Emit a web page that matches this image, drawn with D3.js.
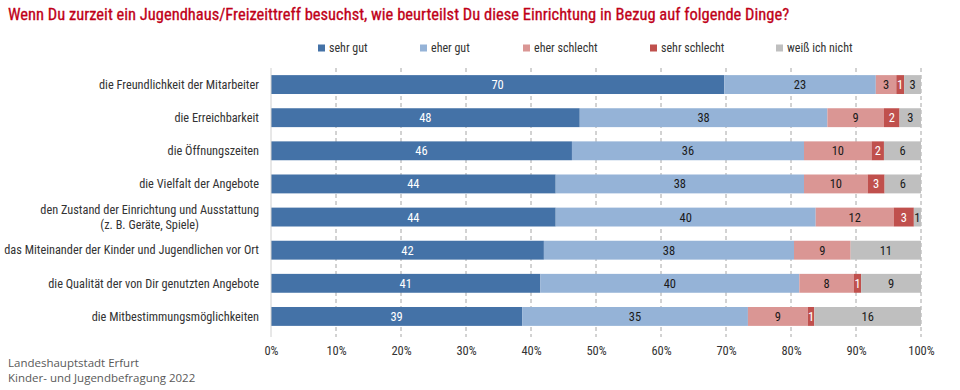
<!DOCTYPE html>
<html>
<head>
<meta charset="utf-8">
<script src="https://cdn.jsdelivr.net/npm/d3@7"></script>
<style>
  body { margin: 0; background: #fff; }
  svg text { font-family: "Liberation Sans Narrow", "Roboto Condensed", Roboto, sans-serif; }
</style>
</head>
<body>
<svg id="chart" width="960" height="390"></svg>
<script>
// data (percent)
const categories = [
    "die Freundlichkeit der Mitarbeiter",
    "die Erreichbarkeit",
    "die Öffnungszeiten",
    "die Vielfalt der Angebote",
    "den Zustand der Einrichtung und Ausstattung\n(z. B. Geräte, Spiele)",
    "das Miteinander der Kinder und Jugendlichen vor Ort",
    "die Qualität der von Dir genutzten Angebote",
    "die Mitbestimmungsmöglichkeiten"
];
const seriesNames = ["sehr gut", "eher gut", "eher schlecht", "sehr schlecht", "weiß ich nicht"];
const sehrGut      = [69.7, 47.5, 46.3, 43.8, 43.8, 41.9, 41.4, 38.6];
const eherGut      = [23.3, 38.1, 35.7, 38.2, 40.0, 38.4, 39.8, 34.7];
const eherSchlecht = [3.15, 8.7, 10.4, 9.8, 12.0, 8.7, 8.4, 9.2];
const sehrSchlecht = [1.2, 2.4, 1.9, 2.6, 3.1, 0, 1.1, 1.0];
const weissNicht   = [2.6, 3.3, 5.7, 5.6, 1.1, 10.8, 9.2, 16.4];
const xTicks = [0, 0.1, 0.2, 0.3, 0.4, 0.5, 0.6, 0.7, 0.8, 0.9, 1];

const colors = ["#4472a7", "#95b3d7", "#da9694", "#c0504d", "#bfbfbf"];
const labelColors = ["#ffffff", "#1a1a1a", "#1a1a1a", "#ffffff", "#1a1a1a"];

const series = [sehrGut, eherGut, eherSchlecht, sehrSchlecht, weissNicht];
const rows = categories.map((c, i) => {
    const r = { cat: c };
    seriesNames.forEach((s, j) => r[s] = series[j][i]);
    return r;
});

const svg = d3.select("#chart");
const plotLeft = 271, plotRight = 921, plotTop = 68, plotBottom = 333;

const x = d3.scaleLinear().domain([0, 1]).range([plotLeft, plotRight]);
const y = d3.scaleBand().domain(categories).range([plotTop, plotBottom])
    .paddingInner(0.43).paddingOuter(0.215);
const color = d3.scaleOrdinal().domain(seriesNames).range(colors);
const labelColor = d3.scaleOrdinal().domain(seriesNames).range(labelColors);

const stacked = d3.stack().keys(seriesNames).offset(d3.stackOffsetExpand)(rows);

// title
svg.append("text")
    .attr("x", 8).attr("y", 20)
    .attr("fill", "#c00018")
    .attr("font-size", 16.5)
    .attr("stroke", "#c00018")
    .attr("stroke-width", 0.3)
    .text("Wenn Du zurzeit ein Jugendhaus/Freizeittreff besuchst, wie beurteilst Du diese Einrichtung in Bezug auf folgende Dinge?");

// legend
const legendX = [318, 420, 523, 650, 776];
const legend = svg.append("g").selectAll("g")
    .data(seriesNames)
    .join("g")
        .attr("transform", (d, i) => "translate(" + legendX[i] + ",48)");
legend.append("rect")
    .attr("x", 0).attr("y", -3.5)
    .attr("width", 7).attr("height", 7)
    .attr("fill", d => color(d));
legend.append("text")
    .attr("x", 11).attr("dy", "0.35em")
    .attr("font-size", 12)
    .attr("fill", "#333")
    .text(d => d);

// grid + bottom ticks
const grid = svg.append("g");
grid.selectAll("line")
    .data(xTicks.slice(1))
    .join("line")
        .attr("x1", d => x(d)).attr("x2", d => x(d))
        .attr("y1", plotTop).attr("y2", plotBottom + 4)
        .attr("stroke", "#a6a6a6")
        .attr("stroke-dasharray", "4,3");

// bars
const layer = svg.append("g").selectAll("g")
    .data(stacked)
    .join("g")
        .attr("fill", d => color(d.key));
layer.selectAll("rect")
    .data(d => d)
    .join("rect")
        .attr("x", d => x(d[0]))
        .attr("width", d => x(d[1]) - x(d[0]))
        .attr("y", d => y(d.data.cat))
        .attr("height", y.bandwidth());

// value labels
stacked.forEach(s => {
    svg.append("g").selectAll("text")
        .data(s.filter(d => Math.round(d.data[s.key]) > 0))
        .join("text")
            .attr("x", d => (x(d[0]) + x(d[1])) / 2)
            .attr("y", d => y(d.data.cat) + y.bandwidth() / 2)
            .attr("dy", "0.36em")
            .attr("text-anchor", "middle")
            .attr("font-size", 12.5)
            .attr("fill", labelColor(s.key))
            .text(d => Math.round(d.data[s.key]));
});

// left axis line
svg.append("line")
    .attr("x1", plotLeft).attr("x2", plotLeft)
    .attr("y1", plotTop).attr("y2", plotBottom + 4)
    .attr("stroke", "#d0d0d0");

// x axis labels
const xAxis = svg.append("g")
    .attr("transform", "translate(0," + (plotBottom + 4) + ")")
    .call(d3.axisBottom(x).tickValues(xTicks).tickFormat(d3.format(".0%")).tickSize(0).tickPadding(9));
xAxis.select(".domain").remove();
xAxis.selectAll("text").attr("font-size", 12.5).attr("fill", "#333").attr("font-family", null);

// category labels
const catG = svg.append("g").selectAll("text")
    .data(categories)
    .join("text")
        .attr("font-size", 12.3)
        .attr("fill", "#333")
        .attr("text-anchor", "end")
        .attr("y", d => y(d) + y.bandwidth() / 2);
catG.each(function(d) {
    const lines = d.split("\n");
    const t = d3.select(this);
    if (lines.length === 1) {
        t.attr("x", 259).attr("dy", "0.35em").text(d);
    } else {
        t.attr("x", null).attr("text-anchor", null);
        const first = t.append("tspan").attr("x", 259).attr("text-anchor", "end").attr("dy", "-0.25em").text(lines[0]);
        const w = first.node().getComputedTextLength();
        t.append("tspan").attr("x", 259 - w / 2).attr("text-anchor", "middle").attr("dy", "1.2em").text(lines[1]);
    }
});

// footer
svg.append("g").selectAll("text")
    .data(["Landeshauptstadt Erfurt", "Kinder- und Jugendbefragung 2022"])
    .join("text")
        .attr("x", 8)
        .attr("y", (d, i) => 367 + i * 15)
        .attr("font-size", 11.5)
        .attr("fill", "#595959")
        .style("font-family", "'Open Sans', sans-serif")
        .text(d => d);
</script>
</body>
</html>
